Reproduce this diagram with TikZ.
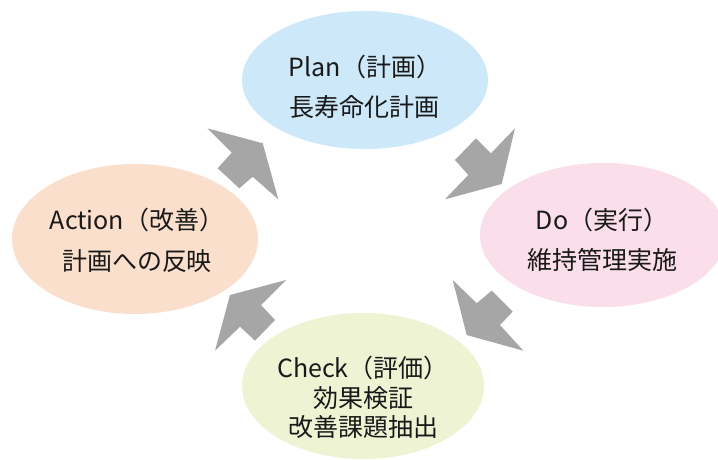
\documentclass[tikz,border=0pt]{standalone}
\usepackage{fontspec}
\setmainfont{Noto Sans CJK JP}
\usetikzlibrary{shapes.geometric}
\definecolor{planfill}{RGB}{205,233,249}
\definecolor{dofill}{RGB}{250,222,234}
\definecolor{checkfill}{RGB}{238,243,212}
\definecolor{actfill}{RGB}{251,223,205}
\definecolor{arrowgray}{RGB}{166,166,166}
\definecolor{txt}{RGB}{25,25,25}
\tikzset{
  phase/.style={ellipse, inner sep=0pt, draw=none},
  title/.style={font=\fontsize{25}{29}\selectfont, text=txt, inner sep=0pt, anchor=center},
  body/.style={font=\fontsize{25}{29}\selectfont, text=txt, inner sep=0pt, anchor=center},
  blockarrow/.style={fill=arrowgray, draw=none}
}
\begin{document}
\begin{tikzpicture}[x=1pt, y=-1pt]
\useasboundingbox (0,0) rectangle (718,460);
\clip (0,0) rectangle (718,460);
\fill[white] (0,0) rectangle (718,460);
% ellipses
\node[phase, fill=planfill, minimum width=246pt, minimum height=138pt] (plan) at (365,80) {};
\node[phase, fill=actfill, minimum width=246pt, minimum height=150pt] (act) at (135,239) {};
\node[phase, fill=dofill, minimum width=246pt, minimum height=144pt] (do) at (603,235) {};
\node[phase, fill=checkfill, minimum width=242pt, minimum height=146pt] (check) at (363,386) {};
% texts
\node[title] (plan-t) at (365,67) {Plan（計画）};
\node[body] (plan-b) at (364,107) {長寿命化計画};
\node[title] (act-t) at (137,220) {Action（改善）};
\node[body] (act-b) at (137,261) {計画への反映};
\node[title] (do-t) at (602,220) {Do（実行）};
\node[body] (do-b) at (602,260) {維持管理実施};
\node[title] (check-t) at (363,368) {Check（評価）};
\node[body] (check-b1) at (363,398) {効果検証};
\node[body] (check-b2) at (363,427) {改善課題抽出};
% block arrows
\fill[blockarrow] (207.3,128.3) -- (262.7,143.3) -- (278.3,199.3) -- (252.7,176.7) -- (239.3,188.3) -- (217.7,168.3) -- (231.7,152.7) -- cycle;
\fill[blockarrow] (515,128.3) -- (501.7,184) -- (445,199.3) -- (468.3,175) -- (455,160) -- (476,138.3) -- (491,153.3) -- cycle;
\fill[blockarrow] (286,280) -- (230,295) -- (215,350.7) -- (240,326.7) -- (255,340.7) -- (275,320) -- (261,305) -- cycle;
\fill[blockarrow] (452.7,280) -- (476.7,303.3) -- (491.7,290.7) -- (512.7,311.7) -- (500,325) -- (523.3,350.7) -- (466.7,335) -- cycle;
\end{tikzpicture}
\end{document}
